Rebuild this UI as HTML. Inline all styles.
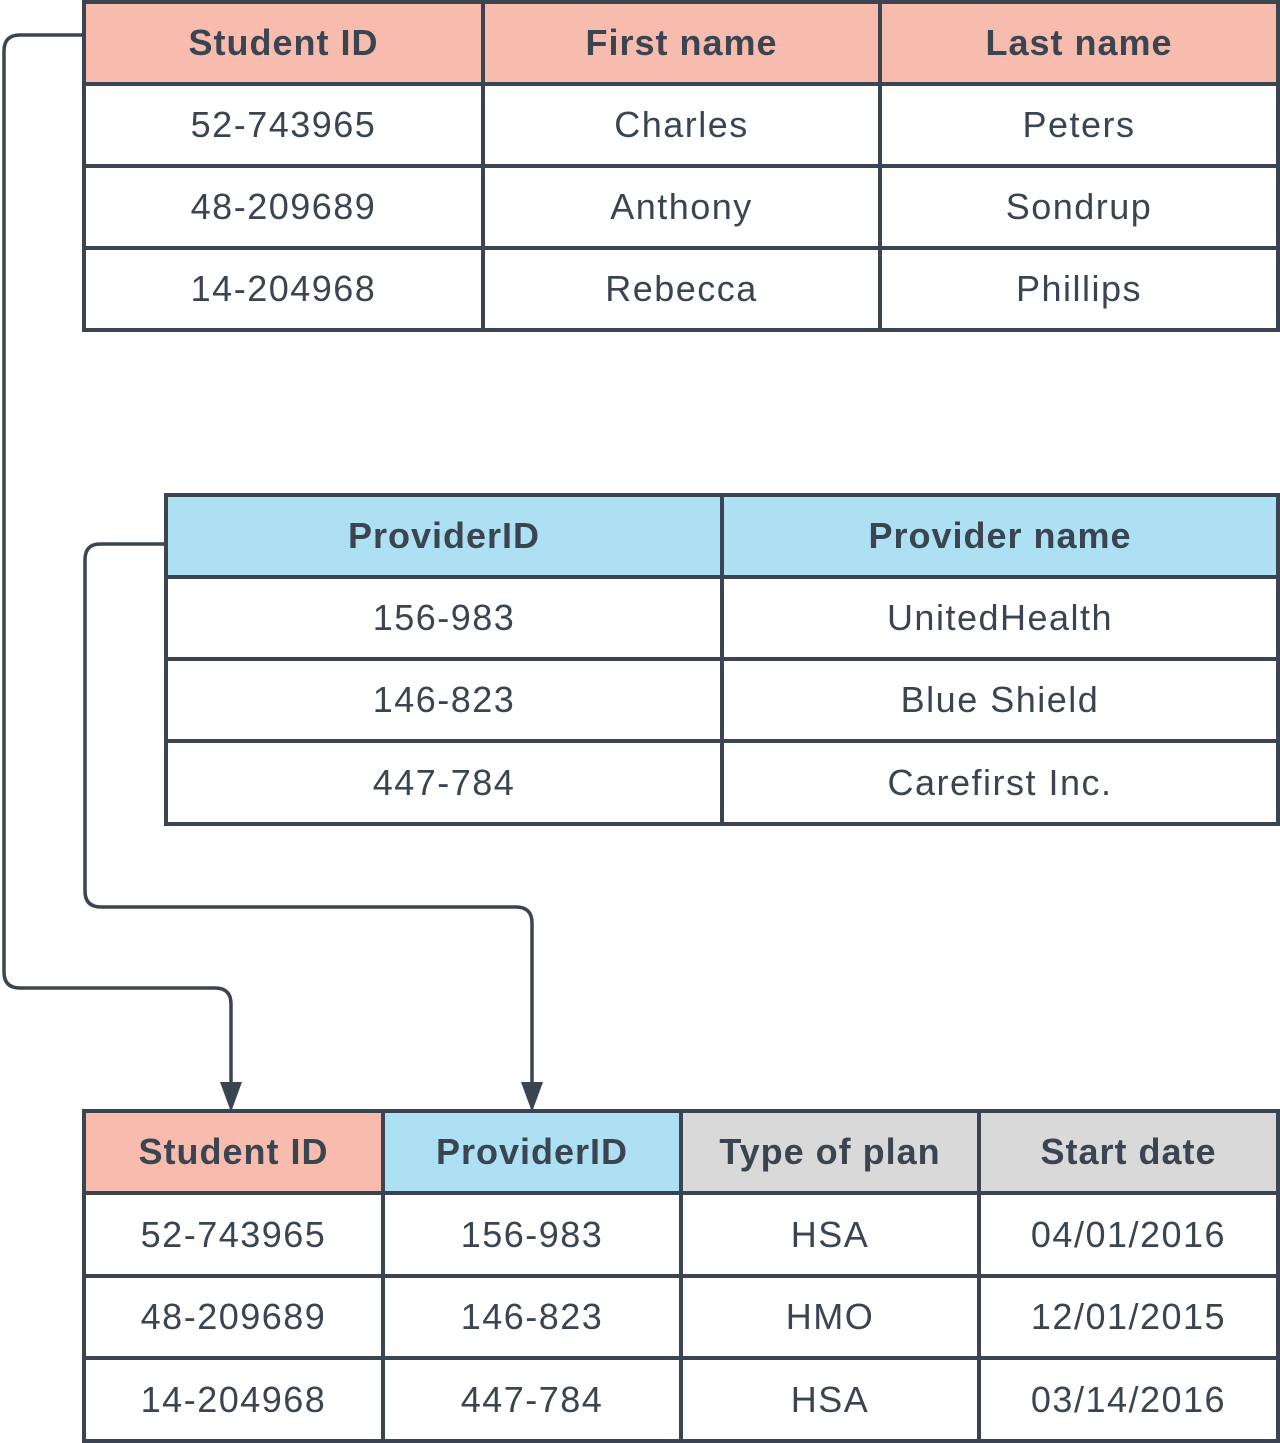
<!DOCTYPE html>
<html><head><style>
body{margin:0;width:1280px;height:1443px;background:#fff;position:relative;overflow:hidden;font-family:"Liberation Sans",sans-serif;color:#3a4551}
.c{position:absolute;box-sizing:border-box;border:4px solid #3a4551;display:flex;align-items:center;justify-content:center;font-size:36px;letter-spacing:1.5px}
.h{font-weight:bold;letter-spacing:1px}
svg{position:absolute;left:0;top:0}
</style></head><body>
<svg width="1280" height="1443">
<g fill="none" stroke="#3a4551" stroke-width="3.5">
<path d="M84 35 H20 Q4 35 4 51 V972 Q4 988 20 988 H215 Q231 988 231 1004 V1090"/>
<path d="M166 544 H100 Q85 544 85 560 V891 Q85 907 101 907 H516 Q532 907 532 923 V1090"/>
</g>
<polygon points="220,1082 242,1082 231,1112" fill="#3a4551"/>
<polygon points="521,1082 543,1082 532,1112" fill="#3a4551"/>
</svg>
<div id="t"></div>
<script>
function tbl(xs,ys,rows,colors){let h='';for(let r=0;r<rows.length;r++)for(let c=0;c<rows[r].length;c++){let bg=r==0?colors[c]:'#fff';h+=`<div class="c${r==0?' h':''}" style="left:${xs[c]-2}px;top:${ys[r]-2}px;width:${xs[c+1]-xs[c]+4}px;height:${ys[r+1]-ys[r]+4}px;background:${bg}">${rows[r][c]}</div>`}return h}
const S='#f7bcae',B='#ade0f3',G='#d9d9d9';
document.getElementById('t').innerHTML=
tbl([84,483,880,1278],[2,84,166,248,330],[['Student ID','First name','Last name'],['52-743965','Charles','Peters'],['48-209689','Anthony','Sondrup'],['14-204968','Rebecca','Phillips']],[S,S,S])+
tbl([166,722,1278],[495,577,659,741,824],[['ProviderID','Provider name'],['156-983','UnitedHealth'],['146-823','Blue Shield'],['447-784','Carefirst Inc.']],[B,B])+
tbl([84,383,681,979,1278],[1111,1193,1276,1358,1441],[['Student ID','ProviderID','Type of plan','Start date'],['52-743965','156-983','HSA','04/01/2016'],['48-209689','146-823','HMO','12/01/2015'],['14-204968','447-784','HSA','03/14/2016']],[S,B,G,G]);
</script>
</body></html>
